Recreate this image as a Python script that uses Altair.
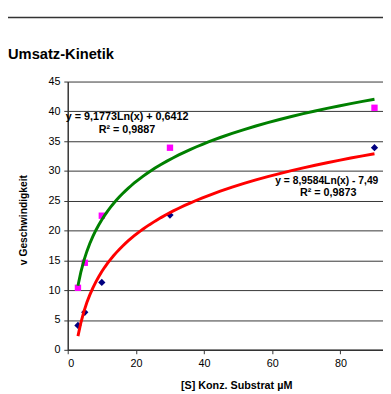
import altair as alt
import pandas as pd

# ---- data ----
conc = [3, 5, 10, 30, 90]
v_series_a = [4.1, 6.3, 11.3, 22.6, 33.9]      # dark blue diamonds
v_series_b = [10.4, 14.6, 22.5, 33.9, 40.6]    # magenta squares
series_names = ["A", "B"]
x_ticks = [0, 20, 40, 60, 80]
y_ticks = [0, 5, 10, 15, 20, 25, 30, 35, 40, 45]

chart_title = "Umsatz-Kinetik"
x_title = "[S] Konz. Substrat  µM"
y_title = "v Geschwindigkeit"
eq_b = ["y = 9,1773Ln(x) + 0,6412", "R² = 0,9887"]
eq_a = ["y = 8,9584Ln(x) - 7,49", "R² = 0,9873"]

df = pd.DataFrame({
    "x": conc + conc,
    "y": v_series_a + v_series_b,
    "s": [series_names[0]] * len(conc) + [series_names[1]] * len(conc),
})

FONT = "Liberation Sans"
W, H = 322, 274

xs = alt.Scale(domain=[0, 92.5], nice=False, zero=False)
ys = alt.Scale(domain=[0, 45], nice=False)

x_enc = alt.X("x:Q", scale=xs, axis=alt.Axis(
    values=x_ticks, grid=False, title=x_title, titleX=172, titleY=39,
    titleBaseline="alphabetic", titleAlign="center", titleFontSize=11,
    titleFontWeight="bold", tickSize=4, labelPadding=4, labelOverlap=False))
y_enc = alt.Y("y:Q", scale=ys, axis=alt.Axis(
    values=y_ticks, grid=True, title=y_title, titleX=-45, titleY=141,
    titleAngle=-90, titleAlign="center", titleBaseline="middle",
    titleFontSize=10.5, titleFontWeight="bold", tickSize=4, labelPadding=4,
    labelOverlap=False))

base = alt.Chart(df)

pts_a = base.transform_filter(alt.datum.s == "A").mark_point(
    shape="diamond", filled=True, size=55, color="#000080", opacity=1
).encode(x=x_enc, y=y_enc)

pts_b = base.transform_filter(alt.datum.s == "B").mark_square(
    size=42, color="#FF00FF", opacity=1
).encode(x=x_enc, y=y_enc)

line_a = base.transform_filter(alt.datum.s == "A").transform_regression(
    "x", "y", method="log"
).mark_line(color="#FF0000", strokeWidth=3).encode(x=x_enc, y=y_enc)

line_b = base.transform_filter(alt.datum.s == "B").transform_regression(
    "x", "y", method="log"
).mark_line(color="#008000", strokeWidth=3).encode(x=x_enc, y=y_enc)


def label(text, x, y, size=11, align="left", weight="bold", baseline="middle"):
    return alt.Chart(pd.DataFrame({"t": [text]})).mark_text(
        align=align, baseline=baseline, font=FONT, fontSize=size,
        fontWeight=weight, color="#000000"
    ).encode(x=alt.value(x), y=alt.value(y), text="t:N")


top_rule = alt.Chart(pd.DataFrame({"t": [0]})).mark_rule(
    color="#333333", strokeWidth=1.5
).encode(x=alt.value(-61), x2=alt.value(W), y=alt.value(-65.5))

title_txt = label(chart_title, -61, -23, size=15, baseline="alphabetic")

txt_b1 = label(eq_b[0], -2, 36)
txt_b2 = label(eq_b[1], 60.5, 50, align="center")
txt_a1 = label(eq_a[0], 212, 102, size=10.5)
txt_a2 = label(eq_a[1], 266, 113.5, align="center")

chart = alt.layer(
    pts_a, pts_b, line_b, line_a, top_rule, title_txt,
    txt_b1, txt_b2, txt_a1, txt_a2
).properties(
    width=W, height=H,
    autosize=alt.AutoSizeParams(type="none"),
    padding={"left": 61, "top": 71, "right": 0, "bottom": 41},
).configure_view(stroke=None).configure_axis(
    labelFont=FONT, titleFont=FONT, labelFontSize=11, labelColor="#000000",
    titleColor="#000000", domainColor="#333333", tickColor="#333333",
    gridColor="#333333", gridOpacity=1, domainWidth=1.5,
)

chart.save("out.html", embed_options={"renderer": "svg", "actions": False})
